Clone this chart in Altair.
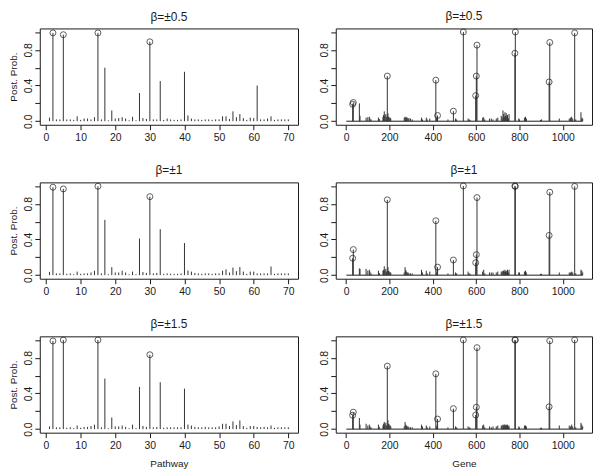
import altair as alt
import pandas as pd

# ---------------- data ----------------
pathway = list(range(1, 71))
pp_path_05 = [0.04, 0.99, 0.02, 0.02, 0.97, 0.02, 0.02, 0.015, 0.056, 0.015,
              0.03, 0.03, 0.02, 0.045, 0.99, 0.02, 0.60, 0.01, 0.12, 0.03,
              0.035, 0.045, 0.03, 0.01, 0.05, 0.01, 0.316, 0.035, 0.025, 0.89,
              0.02, 0.02, 0.45, 0.015, 0.03, 0.02, 0.015, 0.015, 0.02, 0.554,
              0.065, 0.03, 0.02, 0.02, 0.015, 0.02, 0.02, 0.015, 0.02, 0.02,
              0.055, 0.055, 0.025, 0.11, 0.045, 0.08, 0.035, 0.015, 0.04, 0.035,
              0.40, 0.02, 0.02, 0.03, 0.055, 0.015, 0.02, 0.02, 0.02, 0.02]
pp_path_1 = [0.037, 0.986, 0.02, 0.02, 0.967, 0.015, 0.02, 0.01, 0.04, 0.015,
             0.02, 0.02, 0.03, 0.05, 0.997, 0.02, 0.62, 0.01, 0.09, 0.03,
             0.03, 0.05, 0.03, 0.01, 0.04, 0.01, 0.41, 0.035, 0.025, 0.88,
             0.02, 0.025, 0.515, 0.015, 0.02, 0.015, 0.015, 0.015, 0.02, 0.36,
             0.052, 0.04, 0.025, 0.02, 0.015, 0.02, 0.02, 0.015, 0.02, 0.02,
             0.05, 0.065, 0.03, 0.085, 0.045, 0.09, 0.04, 0.015, 0.04, 0.04,
             0.02, 0.02, 0.02, 0.02, 0.097, 0.015, 0.02, 0.02, 0.02, 0.02]
pp_path_15 = [0.03, 0.988, 0.02, 0.02, 0.999, 0.015, 0.02, 0.01, 0.04, 0.015,
              0.025, 0.025, 0.035, 0.05, 0.999, 0.02, 0.567, 0.01, 0.13, 0.03,
              0.03, 0.04, 0.025, 0.01, 0.05, 0.01, 0.473, 0.035, 0.025, 0.834,
              0.02, 0.025, 0.526, 0.015, 0.02, 0.02, 0.02, 0.02, 0.02, 0.454,
              0.05, 0.04, 0.025, 0.02, 0.02, 0.025, 0.02, 0.02, 0.02, 0.03,
              0.06, 0.06, 0.035, 0.086, 0.045, 0.097, 0.035, 0.015, 0.035, 0.035,
              0.025, 0.02, 0.025, 0.02, 0.04, 0.015, 0.02, 0.02, 0.02, 0.02]
path_selected = [2, 5, 15, 30]

gene_bg = [61, 64, 92, 100, 107, 110, 115, 149, 153, 170, 173, 176, 179, 183,
           187, 193, 196, 199, 203, 206, 268, 272, 275, 278, 282, 286, 290, 297,
           305, 348, 352, 370, 374, 386, 418, 420, 470, 505, 510, 563, 568, 572,
           630, 635, 640, 662, 670, 678, 693, 700, 716, 720, 724, 727, 730, 733,
           736, 739, 742, 745, 749, 752, 797, 800, 823, 828, 832, 897, 902, 984,
           1030, 1036, 1041, 1046, 1060, 1084, 1088, 1092]
gene_bg_05 = [0.20, 0.06, 0.04, 0.045, 0.05, 0.03, 0.02, 0.04, 0.025, 0.05, 0.07,
              0.11, 0.06, 0.08, 0.05, 0.09, 0.05, 0.04, 0.04, 0.03, 0.04, 0.05,
              0.04, 0.045, 0.04, 0.03, 0.035, 0.03, 0.02, 0.04, 0.02, 0.04, 0.02,
              0.03, 0.03, 0.05, 0.02, 0.03, 0.02, 0.03, 0.02, 0.015, 0.04, 0.045,
              0.02, 0.03, 0.03, 0.02, 0.03, 0.04, 0.06, 0.04, 0.12, 0.08, 0.05,
              0.10, 0.06, 0.09, 0.05, 0.07, 0.03, 0.08, 0.03, 0.02, 0.04, 0.05,
              0.03, 0.015, 0.02, 0.03, 0.03, 0.04, 0.05, 0.03, 0.02, 0.10, 0.04,
              0.03]
gene_bg_1 = [0.075, 0.07, 0.07, 0.05, 0.06, 0.04, 0.02, 0.05, 0.025, 0.05, 0.06,
             0.10, 0.05, 0.07, 0.04, 0.09, 0.05, 0.04, 0.03, 0.03, 0.03, 0.09,
             0.06, 0.04, 0.03, 0.03, 0.02, 0.02, 0.02, 0.06, 0.03, 0.05, 0.02,
             0.04, 0.03, 0.06, 0.02, 0.03, 0.02, 0.04, 0.02, 0.015, 0.04, 0.06,
             0.02, 0.03, 0.03, 0.03, 0.03, 0.04, 0.04, 0.04, 0.05, 0.05, 0.04,
             0.06, 0.04, 0.05, 0.04, 0.06, 0.03, 0.06, 0.03, 0.03, 0.04, 0.05,
             0.03, 0.015, 0.015, 0.03, 0.03, 0.03, 0.04, 0.03, 0.02, 0.06, 0.05,
             0.03]
gene_bg_15 = [0.125, 0.05, 0.06, 0.04, 0.05, 0.03, 0.02, 0.05, 0.025, 0.04, 0.06,
              0.08, 0.05, 0.07, 0.04, 0.10, 0.06, 0.05, 0.04, 0.03, 0.03, 0.08,
              0.05, 0.04, 0.03, 0.03, 0.02, 0.02, 0.02, 0.05, 0.03, 0.04, 0.02,
              0.03, 0.03, 0.05, 0.02, 0.03, 0.02, 0.03, 0.02, 0.015, 0.04, 0.05,
              0.02, 0.03, 0.02, 0.03, 0.03, 0.04, 0.04, 0.04, 0.05, 0.04, 0.05,
              0.05, 0.04, 0.05, 0.04, 0.05, 0.03, 0.04, 0.03, 0.02, 0.04, 0.04,
              0.03, 0.015, 0.015, 0.04, 0.04, 0.03, 0.05, 0.03, 0.02, 0.07, 0.05,
              0.03]

true_genes = [30, 33, 190, 414, 422, 495, 541, 598, 601, 604, 779, 781, 937, 940, 1055]
true_05 = [0.19, 0.21, 0.506, 0.46, 0.064, 0.113, 1.0, 0.287, 0.506, 0.853, 0.762, 1.0, 0.44, 0.883, 0.99]
true_1 = [0.19, 0.287, 0.845, 0.61, 0.09, 0.17, 1.0, 0.14, 0.23, 0.87, 1.0, 0.995, 0.445, 0.93, 0.995]
true_15 = [0.155, 0.19, 0.706, 0.62, 0.113, 0.23, 1.0, 0.158, 0.245, 0.913, 1.0, 0.998, 0.25, 0.99, 1.0]
gene_span = [1, 1092]

titles = ["β=±0.5", "β=±1", "β=±1.5"]

# ---------------- styling ----------------
INK = "#1a1a1a"
SPIKE = "#333333"
FONT = "Liberation Sans"
y_scale = alt.Scale(domain=[-0.04, 1.04], nice=False, zero=False)
y_label_expr = ("abs(datum.value) < 0.001 || abs(datum.value - 0.4) < 0.001 || "
                "abs(datum.value - 0.8) < 0.001 ? format(datum.value, '.1f') : ''")


def y_axis(with_title):
    kw = dict(values=[0, 0.2, 0.4, 0.6, 0.8, 1.0], labelExpr=y_label_expr,
              labelAngle=270, labelAlign="center", labelBaseline="bottom",
              labelPadding=1, tickSize=5, grid=False, domain=False,
              titlePadding=5, labelOverlap=False)
    kw["title"] = "Post. Prob." if with_title else None
    return alt.Axis(**kw)


def x_axis(values, title):
    kw = dict(values=values, tickSize=5, labelPadding=3, grid=False,
              domain=False, labelAngle=0, titlePadding=8, labelFlush=False,
              labelOverlap=False, format="d")
    kw["title"] = title if title else None
    return alt.Axis(**kw)


def pathway_panel(vals, title, bottom):
    df = pd.DataFrame({"x": pathway, "pp": vals})
    sel = df[df["x"].isin(path_selected)]
    xs = alt.Scale(domain=[-1.8, 72.8], nice=False, zero=False)
    ax = x_axis(list(range(0, 71, 10)), "Pathway" if bottom else None)
    ay = y_axis(True)
    spikes = alt.Chart(df).mark_rule(color=SPIKE, strokeWidth=1).encode(
        x=alt.X("x:Q", scale=xs, axis=ax),
        y=alt.Y("pp:Q", scale=y_scale, axis=ay), y2=alt.datum(0))
    circ = alt.Chart(sel).mark_point(shape="circle", filled=False, size=36,
                                     color=INK, strokeWidth=1).encode(
        x=alt.X("x:Q", scale=xs, axis=ax),
        y=alt.Y("pp:Q", scale=y_scale, axis=ay))
    return alt.layer(spikes, circ).properties(
        width=260, height=97, title=alt.TitleParams(title))


def gene_panel(bg_vals, true_vals, title, bottom):
    dfb = pd.DataFrame({"x": gene_bg, "pp": bg_vals})
    dft = pd.DataFrame({"x": true_genes, "pp": true_vals})
    dfall = pd.concat([dfb, dft])
    base_df = pd.DataFrame({"x": [gene_span[0]], "x2": [gene_span[1]], "pp": [0.0]})
    xs = alt.Scale(domain=[-48, 1135], nice=False, zero=False)
    ax = x_axis(list(range(0, 1001, 200)), "Gene" if bottom else None)
    ay = y_axis(False)
    X = alt.X("x:Q", scale=xs, axis=ax)
    Y = alt.Y("pp:Q", scale=y_scale, axis=ay)
    baseline = alt.Chart(base_df).mark_rule(color=INK, strokeWidth=1).encode(
        x=X, x2="x2:Q", y=Y)
    spikes = alt.Chart(dfall).mark_rule(color=SPIKE, strokeWidth=1).encode(
        x=X, y=Y, y2=alt.datum(0))
    circ = alt.Chart(dft).mark_point(shape="circle", filled=False, size=36,
                                     color=INK, strokeWidth=1).encode(x=X, y=Y)
    return alt.layer(baseline, spikes, circ).properties(
        width=258, height=97, title=alt.TitleParams(title))


panels = [
    pathway_panel(pp_path_05, titles[0], False),
    gene_panel(gene_bg_05, true_05, titles[0], False),
    pathway_panel(pp_path_1, titles[1], False),
    gene_panel(gene_bg_1, true_1, titles[1], False),
    pathway_panel(pp_path_15, titles[2], True),
    gene_panel(gene_bg_15, true_15, titles[2], True),
]

chart = alt.concat(*panels, columns=2, spacing={"row": 58, "column": 38},
                   bounds="flush").properties(padding=0).configure_view(
    stroke=INK, strokeWidth=1
).configure_axis(
    labelFont=FONT, titleFont=FONT, labelFontSize=10.5, titleFontSize=10,
    labelColor=INK, titleColor=INK, tickColor=INK, titleFontWeight="normal"
).configure_title(
    font=FONT, fontSize=12, fontWeight="normal", color=INK, offset=4,
    anchor="middle"
)

chart.save("out.html", embed_options={"renderer": "svg", "actions": False})
